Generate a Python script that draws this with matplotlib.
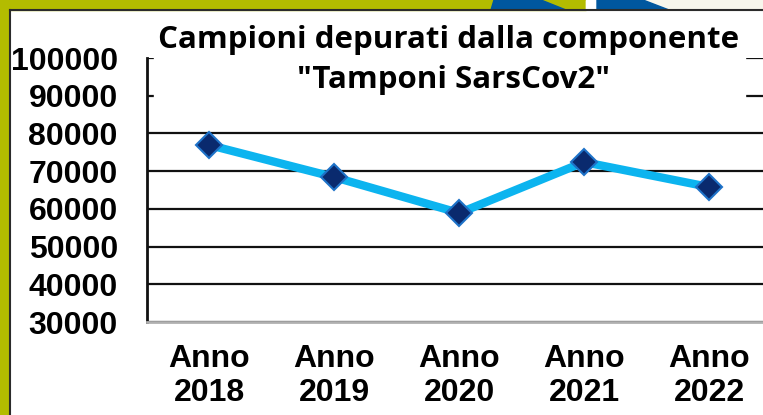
import matplotlib.pyplot as plt
from matplotlib.patches import Rectangle, Polygon

anni = ["Anno\n2018", "Anno\n2019", "Anno\n2020", "Anno\n2021", "Anno\n2022"]
campioni = [76900, 68400, 58900, 72400, 65800]
tick_valori = [30000, 40000, 50000, 60000, 70000, 80000, 90000, 100000]

W, H = 763, 415
fig = plt.figure(figsize=(W / 100, H / 100), dpi=100)
fig.patch.set_facecolor("white")

def fx(px):
    return px / W

def fy(py):
    return 1 - py / H

# cornice decorativa
oliva = "#b3bc00"
fig.patches.append(Rectangle((0, 0), fx(9), 1, transform=fig.transFigure, color=oliva, zorder=0))
fig.patches.append(Rectangle((0, fy(10)), fx(586), 1 - fy(10), transform=fig.transFigure, color=oliva, zorder=0))
fig.patches.append(Rectangle((fx(586), fy(10)), 1 - fx(586), 1 - fy(10), transform=fig.transFigure,
                             color="#f7f6ec", zorder=0))
fig.patches.append(Rectangle((fx(586), fy(10)), fx(11), 1 - fy(10), transform=fig.transFigure,
                             color="#ffffff", zorder=0))
blu = "#00579f"
fig.patches.append(Polygon([(fx(494), 1), (fx(541), 1), (fx(566), fy(10)), (fx(491), fy(10))],
                           closed=True, transform=fig.transFigure, color=blu, zorder=1))
fig.patches.append(Polygon([(fx(597), 1), (fx(643), 1), (fx(669), fy(10)), (fx(597), fy(10))],
                           closed=True, transform=fig.transFigure, color=blu, zorder=1))
fig.lines.append(plt.Line2D([fx(9.5), 1], [fy(10), fy(10)], transform=fig.transFigure, color="#2b2b2b", lw=1.5))
fig.lines.append(plt.Line2D([fx(9.5), fx(9.5)], [0, fy(10)], transform=fig.transFigure, color="#2b2b2b", lw=1.5))

# area del grafico
ax = fig.add_axes([fx(147), fy(322), fx(771.5) - fx(147), fy(58) - fy(322)])
ax.set_facecolor("none")
x = list(range(len(anni)))
ax.plot(x, campioni, color="#0cb4ef", lw=6, solid_capstyle="round", zorder=3)
ax.plot(x, campioni, ls="none", marker="D", ms=13, mfc="#0a2a6e", mec="#1e72c8", mew=1.5, zorder=4)

ax.set_xlim(-0.5, len(anni) - 0.5)
ax.set_ylim(30000, 100000)
ax.set_yticks(tick_valori)
ax.set_yticklabels([str(v) for v in tick_valori])
ax.set_xticks(x)
ax.set_xticklabels(anni, linespacing=1.15)
for t in ax.get_yticklabels() + ax.get_xticklabels():
    t.set_fontfamily("Liberation Sans")
    t.set_fontweight("bold")
    t.set_fontsize(23)
ax.tick_params(axis="y", length=0, pad=21)
ax.tick_params(axis="x", length=0, pad=16)
ax.yaxis.grid(True, color="#111111", lw=1.6)
ax.set_axisbelow(True)
for s in ["top", "right"]:
    ax.spines[s].set_visible(False)
ax.spines["left"].set_color("#111111")
ax.spines["left"].set_linewidth(2)
ax.spines["bottom"].set_color("#b0b0b0")
ax.spines["bottom"].set_linewidth(2)

# titolo con fondo bianco che copre la griglia
fig.patches.append(Rectangle((fx(154), fy(112)), fx(745) - fx(154), fy(18) - fy(112),
                             transform=fig.transFigure, color="white", zorder=5))
fig.text(fx(449), fy(40), "Campioni depurati dalla componente", ha="center", va="center",
         fontsize=22.5, fontweight="bold", family="Open Sans", zorder=6)
fig.text(fx(453), fy(80), "\"Tamponi SarsCov2\"", ha="center", va="center",
         fontsize=22.5, fontweight="bold", family="Open Sans", zorder=6)

fig.savefig("out.png", dpi=100)
